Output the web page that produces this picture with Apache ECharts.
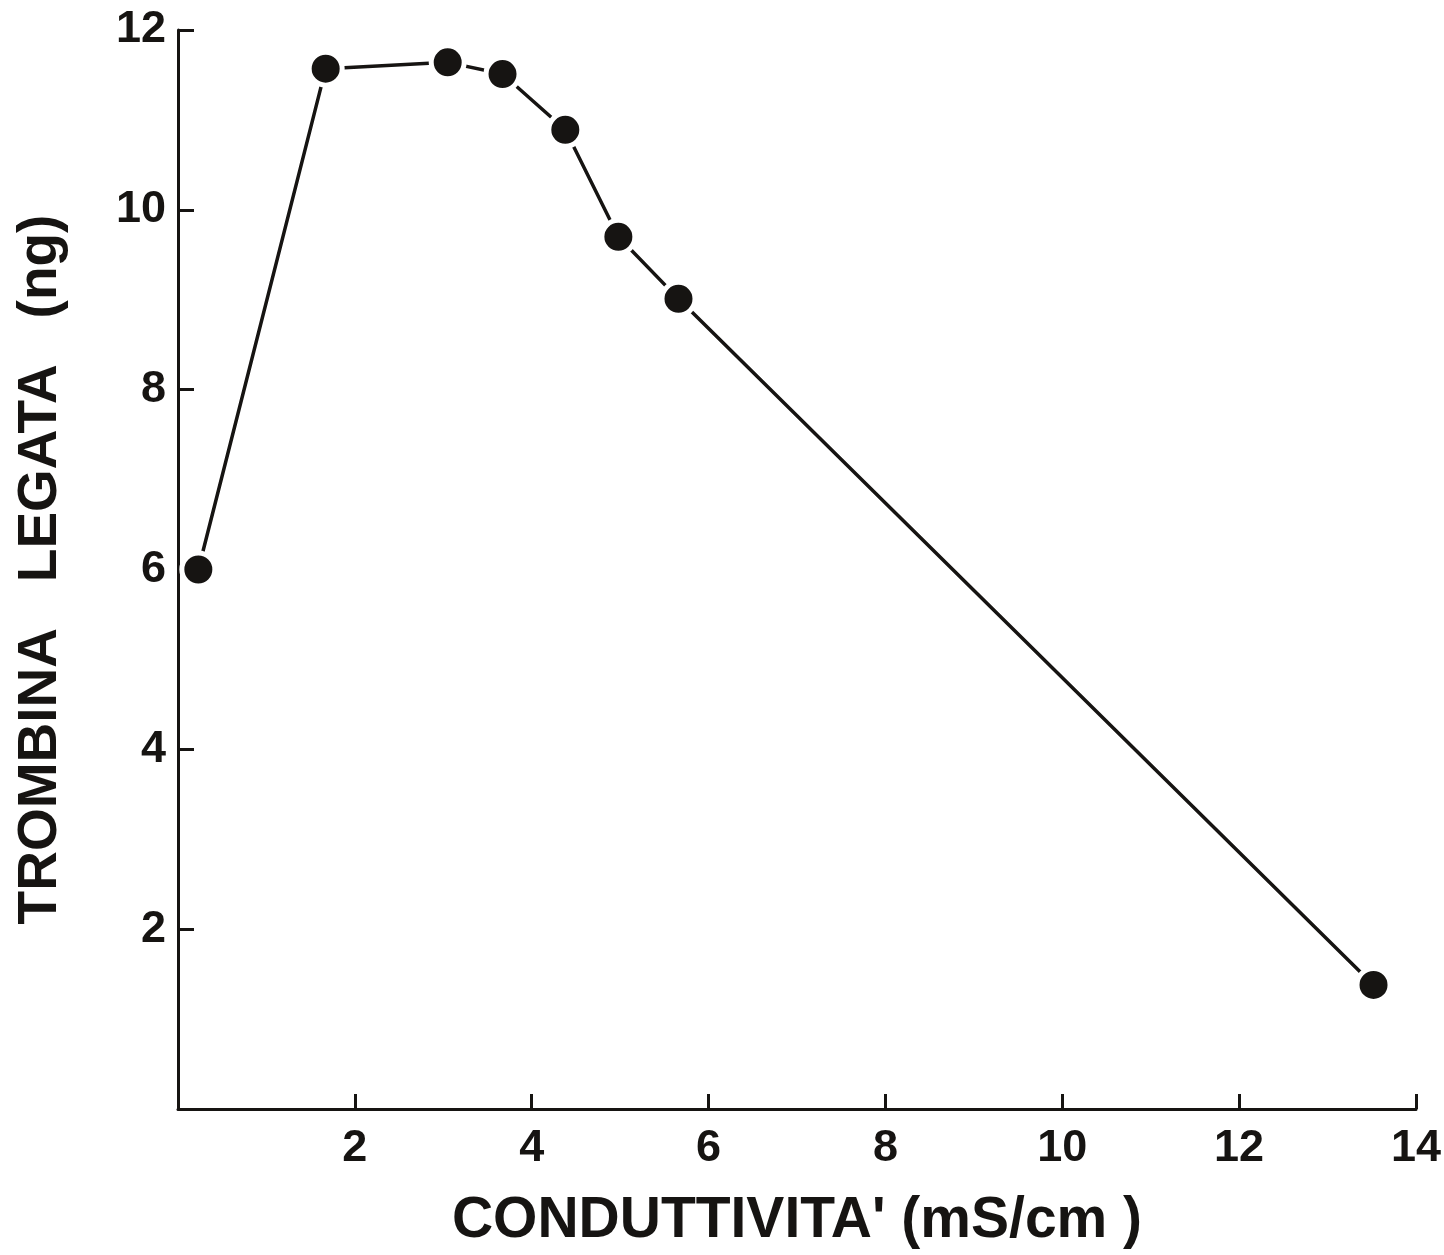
<!DOCTYPE html>
<html>
<head>
<meta charset="utf-8">
<title>Trombina legata vs conduttivita'</title>
<script src="https://cdn.jsdelivr.net/npm/echarts@6/dist/echarts.min.js"></script>
<style>
  html, body { margin: 0; padding: 0; background: #ffffff; }
  #chart { width: 1444px; height: 1255px; }
</style>
</head>
<body>
<div id="chart"></div>
<script>
// conductivity (mS/cm) and bound thrombin (ng)
var conduttivita = [0.23, 1.67, 3.05, 3.67, 4.38, 4.98, 5.66, 13.52];
var trombina = [6.0, 11.57, 11.64, 11.51, 10.89, 9.70, 9.01, 1.38];

var xTicks = [2, 4, 6, 8, 10, 12, 14];
var yTicks = [2, 4, 6, 8, 10, 12];

var ink = "#161412";
var font = "Liberation Sans";

var myChart = echarts.init(document.getElementById("chart"));

var points = conduttivita.map(function (x, i) {
  return [x, trombina[i]];
});

var option = {
  backgroundColor: "#ffffff",
  animation: false,
  grid: { left: 178, right: 28, top: 30, bottom: 145 },
  xAxis: {
    type: "value",
    min: 0,
    max: 14,
    interval: 2,
    z: 3,
    name: "CONDUTTIVITA' (mS/cm )",
    nameLocation: "middle",
    nameGap: 84,
    nameTextStyle: { color: ink, fontFamily: font, fontWeight: "bold", fontSize: 57 },
    axisLine: { lineStyle: { color: ink, width: 3 } },
    axisTick: { inside: true, length: 15, lineStyle: { color: ink, width: 3 } },
    axisLabel: {
      margin: 17,
      color: ink,
      fontFamily: font,
      fontWeight: "bold",
      fontSize: 45,
      formatter: function (v) { return xTicks.indexOf(v) >= 0 ? String(v) : ""; }
    },
    splitLine: { show: false }
  },
  yAxis: {
    type: "value",
    min: 0,
    max: 12,
    interval: 2,
    z: 3,
    name: "TROMBINA   LEGATA   (ng)",
    nameLocation: "middle",
    nameGap: 110,
    nameTextStyle: { color: ink, fontFamily: font, fontWeight: "bold", fontSize: 55 },
    axisLine: { lineStyle: { color: ink, width: 3 } },
    axisTick: { inside: true, length: 16, lineStyle: { color: ink, width: 3 } },
    axisLabel: {
      margin: 12,
      color: ink,
      fontFamily: font,
      fontWeight: "bold",
      fontSize: 45,
      formatter: function (v) { return yTicks.indexOf(v) >= 0 ? String(v) : ""; }
    },
    splitLine: { show: false }
  },
  series: [
    {
      type: "line",
      data: points,
      symbol: "circle",
      symbolSize: 33,
      lineStyle: { color: ink, width: 3.5 },
      itemStyle: { color: ink, borderColor: "#ffffff", borderWidth: 5 },
      emphasis: { disabled: true }
    }
  ]
};

myChart.setOption(option);
</script>
</body>
</html>
